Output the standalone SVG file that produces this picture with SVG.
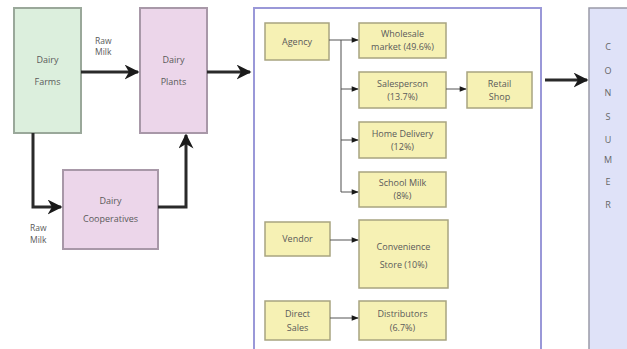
<svg xmlns="http://www.w3.org/2000/svg" width="627" height="349" viewBox="0 0 627 349">
<defs>
<style>
text{font-family:"Open Sans","Liberation Sans",sans-serif;font-size:9px;fill:#5a5a5a;text-anchor:middle}
.g{fill:#dcefdd;stroke:#9aa89a;stroke-width:2}
.p{fill:#ecd6ea;stroke:#a898a8;stroke-width:2}
.y{fill:#f6f1b4;stroke:#a8a480;stroke-width:1.5}
.thick{fill:none;stroke:#2a2a2a;stroke-width:3}
.thin{fill:none;stroke:#555;stroke-width:1}
.trunk{fill:none;stroke:#888;stroke-width:1.5}
.lbl{font-size:8.5px;text-anchor:start}
.c{font-size:9px;fill:#666}
</style>
<marker id="big" viewBox="0 0 10 10" refX="9" refY="5" markerWidth="5" markerHeight="5" orient="auto" markerUnits="strokeWidth">
<path d="M0,0 L10,5 L0,10 L3,5 Z" fill="#1a1a1a"/>
</marker>
<marker id="small" viewBox="0 0 10 10" refX="9" refY="5" markerWidth="8" markerHeight="7" orient="auto" markerUnits="strokeWidth">
<path d="M0,1 L10,5 L0,9 Z" fill="#1a1a1a"/>
</marker>
</defs>
<rect width="627" height="349" fill="#ffffff"/>

<g id="container">
<rect x="254" y="8" width="287" height="345" fill="#ffffff" stroke="#9a98d8" stroke-width="2"/>
</g>
<g id="consumer">
<rect x="589" y="8" width="45" height="345" fill="#dfe2f8" stroke="#9a9aa8" stroke-width="1.5"/>
<text class="c" x="608" y="50">C</text>
<text class="c" x="608" y="74">O</text>
<text class="c" x="608" y="96">N</text>
<text class="c" x="608" y="120">S</text>
<text class="c" x="608" y="143">U</text>
<text class="c" x="608" y="163">M</text>
<text class="c" x="608" y="185">E</text>
<text class="c" x="608" y="208">R</text>
</g>

<g id="dairy-farms">
<rect class="g" x="14" y="8" width="67" height="125"/>
<text x="47.5" y="63">Dairy</text>
<text x="47.5" y="85">Farms</text>
</g>
<g id="dairy-plants">
<rect class="p" x="140" y="8" width="67" height="125"/>
<text x="173.5" y="63">Dairy</text>
<text x="173.5" y="85">Plants</text>
</g>
<g id="dairy-cooperatives">
<rect class="p" x="63" y="170" width="95" height="79"/>
<text x="110.5" y="204">Dairy</text>
<text x="110.5" y="222">Cooperatives</text>
</g>

<g id="agency"><rect class="y" x="265" y="23" width="64" height="37"/><text x="297" y="45">Agency</text></g>
<g id="wholesale"><rect class="y" x="359" y="23" width="87" height="35"/><text x="402.5" y="37">Wholesale</text><text x="402.5" y="50">market (49.6%)</text></g>
<g id="salesperson"><rect class="y" x="359" y="72" width="87" height="36"/><text x="402.5" y="87">Salesperson</text><text x="402.5" y="100">(13.7%)</text></g>
<g id="retail-shop"><rect class="y" x="467" y="72" width="65" height="36"/><text x="499.5" y="87">Retail</text><text x="499.5" y="100">Shop</text></g>
<g id="home-delivery"><rect class="y" x="359" y="122" width="87" height="36"/><text x="402.5" y="137">Home Delivery</text><text x="402.5" y="150">(12%)</text></g>
<g id="school-milk"><rect class="y" x="359" y="172" width="87" height="35"/><text x="402.5" y="186">School Milk</text><text x="402.5" y="199">(8%)</text></g>
<g id="vendor"><rect class="y" x="265" y="222" width="65" height="34"/><text x="297.5" y="242">Vendor</text></g>
<g id="convenience-store"><rect class="y" x="359" y="220" width="89" height="68"/><text x="403.5" y="250">Convenience</text><text x="403.5" y="268">Store  (10%)</text></g>
<g id="direct-sales"><rect class="y" x="265" y="301" width="65" height="39"/><text x="297.5" y="317">Direct</text><text x="297.5" y="331">Sales</text></g>
<g id="distributors"><rect class="y" x="359" y="301" width="87" height="39"/><text x="402.5" y="317">Distributors</text><text x="402.5" y="331">(6.7%)</text></g>

<g id="connectors">
<path class="thick" d="M81,72 H138" marker-end="url(#big)"/>
<path class="thick" d="M207,72 H250" marker-end="url(#big)"/>
<path class="thick" d="M33,133 V207 H61" marker-end="url(#big)"/>
<path class="thick" d="M158,207 H186 V135" marker-end="url(#big)"/>
<path class="thick" d="M545,80 H587" marker-end="url(#big)"/>
<text class="lbl" x="95" y="44">Raw</text>
<text class="lbl" x="95" y="55">Milk</text>
<text class="lbl" x="30" y="231">Raw</text>
<text class="lbl" x="30" y="243">Milk</text>
<path class="trunk" d="M341,40 V192"/>
<path class="thin" d="M329,40 H358" marker-end="url(#small)"/>
<path class="thin" d="M341,89 H358" marker-end="url(#small)"/>
<path class="thin" d="M341,140 H358" marker-end="url(#small)"/>
<path class="thin" d="M341,192 H358" marker-end="url(#small)"/>
<path class="thin" d="M330,240 H358" marker-end="url(#small)"/>
<path class="thin" d="M330,318 H358" marker-end="url(#small)"/>
<path class="thin" d="M446,89 H466" marker-end="url(#small)"/>
</g>
</svg>
